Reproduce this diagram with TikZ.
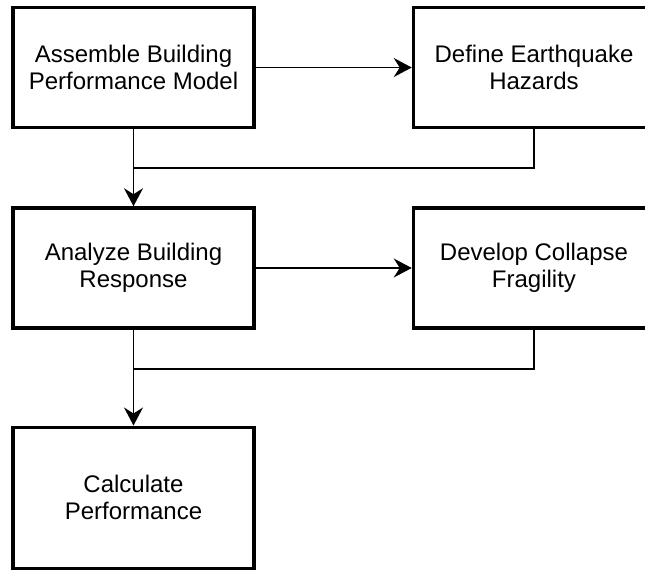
\documentclass[tikz,border=0pt]{standalone}
\usepackage{fontspec}
\setmainfont{Liberation Sans}
\usetikzlibrary{arrows.meta}

\begin{document}
\begin{tikzpicture}[x=1pt, y=-1pt,
    box/.style={draw, line width=3.5pt, minimum width=241pt, minimum height=120pt,
        align=center, font=\fontsize{24}{27}\selectfont},
    link/.style={line width=1.7pt, -{Stealth[length=18pt, width=19pt, inset=6pt]}},
    joint/.style={line width=1.7pt}]

    \useasboundingbox (0,0) rectangle (645,571);

    % Row 1
    \node[box] (model) at (133.5,67.5) {Assemble Building\\Performance Model};
    \node[box] (hazard) at (534,67.5) {Define Earthquake\\Hazards};

    % Row 2
    \node[box] (response) at (133.5,268) {Analyze Building\\Response};
    \node[box] (fragility) at (534,268) {Develop Collapse\\Fragility};

    % Row 3
    \node[box, minimum height=141pt] (perform) at (133.5,497.75) {Calculate\\Performance};

    % Joints
    \coordinate (join1) at (133.5,168);
    \coordinate (join2) at (133.5,369);

    % Connectors
    \draw[link] (model) -- (hazard);
    \draw[link] (model) -- (response);
    \draw[joint] (hazard.south) |- (join1);
    \draw[link] (response) -- (fragility);
    \draw[link] (response) -- (perform);
    \draw[joint] (fragility.south) |- (join2);
\end{tikzpicture}
\end{document}
